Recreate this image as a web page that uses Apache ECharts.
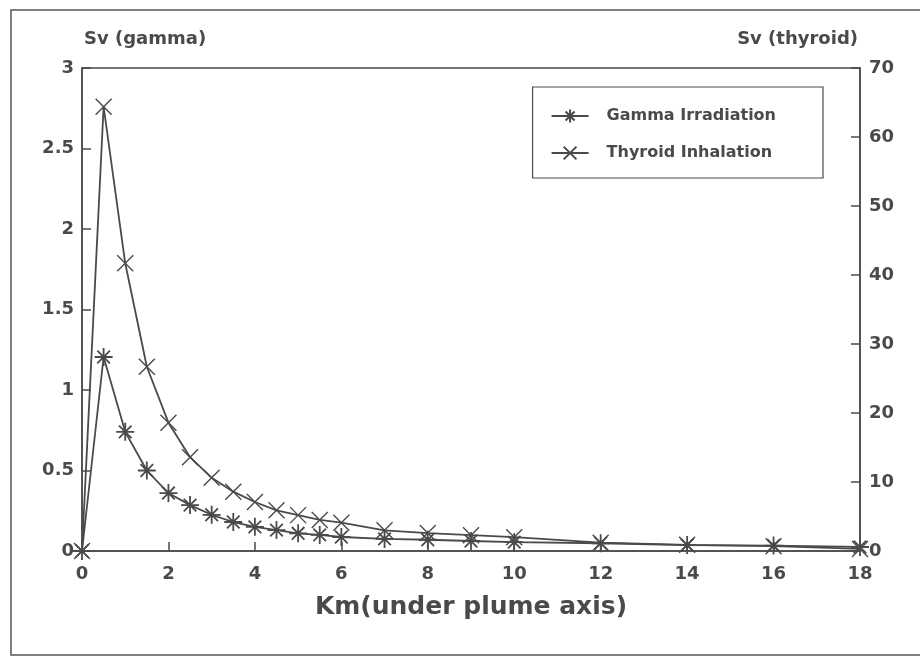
<!DOCTYPE html>
<html><head><meta charset="utf-8">
<script src="https://cdn.jsdelivr.net/npm/echarts@6/dist/echarts.min.js"></script>
<style>html,body{margin:0;padding:0;background:#fff}#c{width:920px;height:659px}</style>
</head><body><div id="c"></div>
<script>
const km = [0, 0.5, 1, 1.5, 2, 2.5, 3, 3.5, 4, 4.5, 5, 5.5, 6, 7, 8, 9, 10, 12, 14, 16, 18];
const gamma = [0, 1.205, 0.74, 0.50, 0.36, 0.285, 0.225, 0.18, 0.15, 0.13, 0.11, 0.10, 0.087, 0.075, 0.07, 0.062, 0.055, 0.048, 0.037, 0.034, 0.025];
const thyroid = [0, 64.4, 41.7, 26.7, 18.6, 13.6, 10.6, 8.6, 7.1, 5.9, 5.2, 4.5, 4.1, 3.0, 2.6, 2.3, 2.0, 1.2, 0.9, 0.7, 0.3];
const seriesNames = ['Gamma Irradiation', 'Thyroid Inhalation'];
const xTitle = 'Km(under plume axis)';
const leftTitle = 'Sv (gamma)';
const rightTitle = 'Sv (thyroid)';

const ink = '#4a4a4a';
const font = 'DejaVu Sans';
const asterisk = 'path://M0,-10L0,10M-10,0L10,0M-7,-7L7,7M-7,7L7,-7';
const cross = 'path://M-10,-10L10,10M-10,10L10,-10';

const chart = echarts.init(document.getElementById('c'));
chart.setOption({
  animation: false,
  backgroundColor: '#fff',
  textStyle: { fontFamily: font, fontWeight: 'bold', color: ink },
  graphic: [{
    type: 'rect', shape: { x: 11, y: 10, width: 930, height: 645 },
    style: { fill: 'none', stroke: '#555', lineWidth: 1.5 }, silent: true
  }],
  grid: { left: 82, right: 60, top: 68, bottom: 108, show: true, borderColor: ink, borderWidth: 1.5, backgroundColor: 'transparent' },
  legend: {
    right: 97, top: 87, orient: 'vertical',
    padding: [21, 47, 17, 18], itemGap: 21, itemWidth: 37, itemHeight: 16,
    borderColor: ink, borderWidth: 1.2, borderRadius: 0,
    data: seriesNames,
    textStyle: { fontFamily: font, fontWeight: 'bold', fontSize: 16, color: ink, padding: [0, 0, 0, 13] }
  },
  xAxis: {
    type: 'value', min: 0, max: 18, interval: 2,
    name: xTitle, nameLocation: 'middle', nameGap: 44,
    nameTextStyle: { fontFamily: font, fontWeight: 'bold', fontSize: 25, color: ink },
    axisLine: { show: true, lineStyle: { color: ink, width: 1.5 } },
    axisTick: { show: true, inside: true, length: 9, lineStyle: { color: ink, width: 1.5 } },
    axisLabel: { fontFamily: font, fontWeight: 'bold', fontSize: 18, color: ink, margin: 14 },
    splitLine: { show: false }
  },
  yAxis: [{
    type: 'value', min: 0, max: 3, interval: 0.5, position: 'left',
    name: leftTitle, nameLocation: 'end', nameGap: 20,
    nameTextStyle: { fontFamily: font, fontWeight: 'bold', fontSize: 18, color: ink, align: 'left', padding: [0, 0, 0, 2] },
    axisLine: { show: true, lineStyle: { color: ink, width: 1.5 } },
    axisTick: { show: true, inside: true, length: 9, lineStyle: { color: ink, width: 1.5 } },
    axisLabel: { fontFamily: font, fontWeight: 'bold', fontSize: 18, color: ink, margin: 8 },
    splitLine: { show: false }
  }, {
    type: 'value', min: 0, max: 70, interval: 10, position: 'right',
    name: rightTitle, nameLocation: 'end', nameGap: 20,
    nameTextStyle: { fontFamily: font, fontWeight: 'bold', fontSize: 18, color: ink, align: 'right', padding: [0, 2, 0, 0] },
    axisLine: { show: true, lineStyle: { color: ink, width: 1.5 } },
    axisTick: { show: true, inside: true, length: 9, lineStyle: { color: ink, width: 1.5 } },
    axisLabel: { fontFamily: font, fontWeight: 'bold', fontSize: 18, color: ink, margin: 9 },
    splitLine: { show: false }
  }],
  series: [{
    name: seriesNames[0], type: 'line', yAxisIndex: 0,
    data: km.map((x, i) => [x, gamma[i]]),
    symbol: asterisk, symbolSize: 18, showAllSymbol: true,
    lineStyle: { color: ink, width: 1.8 },
    itemStyle: { color: ink, borderColor: ink, borderWidth: 1.8 }
  }, {
    name: seriesNames[1], type: 'line', yAxisIndex: 1,
    data: km.map((x, i) => [x, thyroid[i]]),
    symbol: cross, symbolSize: 16, showAllSymbol: true,
    lineStyle: { color: ink, width: 1.8 },
    itemStyle: { color: ink, borderColor: ink, borderWidth: 1.4 }
  }]
});
</script></body></html>
